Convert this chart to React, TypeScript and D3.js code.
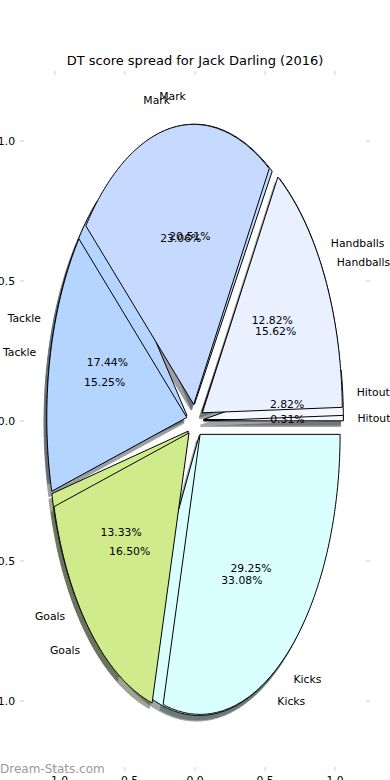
import React, { useEffect, useRef } from "react";
import * as d3 from "d3";

// wedge order as the pie draws them (counter clockwise from 0 deg)
const categories = ["Hitouts", "Handballs", "Mark", "Tackle", "Goals", "Kicks"];
const spreadA = [2.82, 12.82, 20.51, 17.44, 13.33, 33.08];
const spreadB = [0.31, 15.62, 23.06, 15.25, 16.5, 29.25];
const colors = ["#f4f7ff", "#e9f0ff", "#c6daff", "#b4d5ff", "#d0eb8b", "#d9ffff"];
const tickValues = [-1.0, -0.5, 0.0, 0.5, 1.0];

const W = 390;
const H = 780;
const EXPLODE = 0.06;
const LABEL_DIST = 1.1;
const PCT_DIST = 0.6;
const SHADOW = [-0.02, -0.02];
const FONT = "DejaVu Sans, sans-serif";

const App = () => {
  const svgRef = useRef<SVGSVGElement>(null);

  useEffect(() => {
    const svg = d3.select(svgRef.current);
    svg.selectAll("*").remove();

    const x = d3.scaleLinear().domain([-1.25, 1.25]).range([20, 370]);
    const y = d3.scaleLinear().domain([-1.25, 1.25]).range([771, 71]);
    const line = d3.line<[number, number]>().x((d) => x(d[0])).y((d) => y(d[1]));

    // build wedges for a pie (matplotlib style, start 0, ccw)
    const makeWedges = (vals: number[]) => {
      const total = d3.sum(vals);
      let t = 0;
      return vals.map((v, i) => {
        const t1 = t;
        const t2 = t + (360 * v) / total;
        t = t2;
        const mid = ((t1 + t2) / 2) * (Math.PI / 180);
        const ox = EXPLODE * Math.cos(mid);
        const oy = EXPLODE * Math.sin(mid);
        const pts: [number, number][] = [[ox, oy]];
        const n = Math.max(2, Math.ceil((t2 - t1) * 2));
        for (let k = 0; k <= n; k++) {
          const a = ((t1 + ((t2 - t1) * k) / n) * Math.PI) / 180;
          pts.push([ox + Math.cos(a), oy + Math.sin(a)]);
        }
        return { i, v, mid, ox, oy, pts, name: categories[i], color: colors[i] };
      });
    };

    const pies = [makeWedges(spreadA), makeWedges(spreadB)];

    // shadows first (below all wedges)
    pies.forEach((w) => {
      svg
        .append("g")
        .selectAll("path")
        .data(w)
        .join("path")
        .attr("d", (d) => line(d.pts.map((p) => [p[0] + SHADOW[0], p[1] + SHADOW[1]] as [number, number])) + "Z")
        .attr("fill", (d) => {
          const c = d3.rgb(d.color);
          return d3.rgb(c.r * 0.3, c.g * 0.3, c.b * 0.3).toString();
        })
        .attr("stroke", (d) => {
          const c = d3.rgb(d.color);
          return d3.rgb(c.r * 0.3, c.g * 0.3, c.b * 0.3).toString();
        })
        .attr("opacity", 0.5)
        .attr("stroke-width", 1);
    });

    pies.forEach((w) => {
      svg
        .append("g")
        .selectAll("path")
        .data(w)
        .join("path")
        .attr("d", (d) => line(d.pts) + "Z")
        .attr("fill", (d) => d.color)
        .attr("stroke", "black")
        .attr("stroke-width", 1)
        .attr("stroke-linejoin", "miter");
    });

    // labels and percentages
    pies.forEach((w) => {
      w.forEach((d) => {
        const lx = d.ox + LABEL_DIST * Math.cos(d.mid);
        const ly = d.oy + LABEL_DIST * Math.sin(d.mid);
        svg
          .append("text")
          .attr("x", x(lx))
          .attr("y", y(ly))
          .attr("dy", "0.35em")
          .attr("text-anchor", lx > 0 ? "start" : "end")
          .style("font-family", FONT)
          .style("font-size", "10.8px")
          .text(d.name);
        const px = d.ox + PCT_DIST * Math.cos(d.mid);
        const py = d.oy + PCT_DIST * Math.sin(d.mid);
        svg
          .append("text")
          .attr("x", x(px))
          .attr("y", y(py))
          .attr("dy", "0.35em")
          .attr("text-anchor", "middle")
          .style("font-family", FONT)
          .style("font-size", "10.8px")
          .text(d3.format(".2f")(d.v) + "%");
      });
    });

    // ticks on all four sides
    const fmt = d3.format(".1f");
    const tickColor = "#cccccc";
    tickValues.forEach((t) => {
      svg.append("line").attr("x1", 20).attr("x2", 24).attr("y1", y(t)).attr("y2", y(t)).attr("stroke", tickColor);
      svg.append("line").attr("x1", 366).attr("x2", 370).attr("y1", y(t)).attr("y2", y(t)).attr("stroke", tickColor);
      svg.append("line").attr("x1", x(t)).attr("x2", x(t)).attr("y1", 71).attr("y2", 75).attr("stroke", tickColor);
      svg.append("line").attr("x1", x(t)).attr("x2", x(t)).attr("y1", 767).attr("y2", 771).attr("stroke", tickColor);
      svg
        .append("text")
        .attr("x", 15)
        .attr("y", y(t))
        .attr("dy", "0.35em")
        .attr("text-anchor", "end")
        .style("font-family", FONT)
        .style("font-size", "10.8px")
        .text(fmt(t));
      svg
        .append("text")
        .attr("x", x(t))
        .attr("y", 784)
        .attr("text-anchor", "middle")
        .style("font-family", FONT)
        .style("font-size", "10.8px")
        .text(fmt(t));
    });

    svg
      .append("text")
      .attr("x", 195)
      .attr("y", 65)
      .attr("text-anchor", "middle")
      .style("font-family", FONT)
      .style("font-size", "13px")
      .text("DT score spread for Jack Darling (2016)");

    svg
      .append("text")
      .attr("x", 0)
      .attr("y", 773)
      .style("font-family", FONT)
      .style("font-size", "12px")
      .style("fill", "#999999")
      .text("Dream-Stats.com");
  }, []);

  return (
    <svg
      ref={svgRef}
      width={W}
      height={H}
      style={{ position: "absolute", left: 0, top: 0, background: "white" }}
    ></svg>
  );
};

export default App;
